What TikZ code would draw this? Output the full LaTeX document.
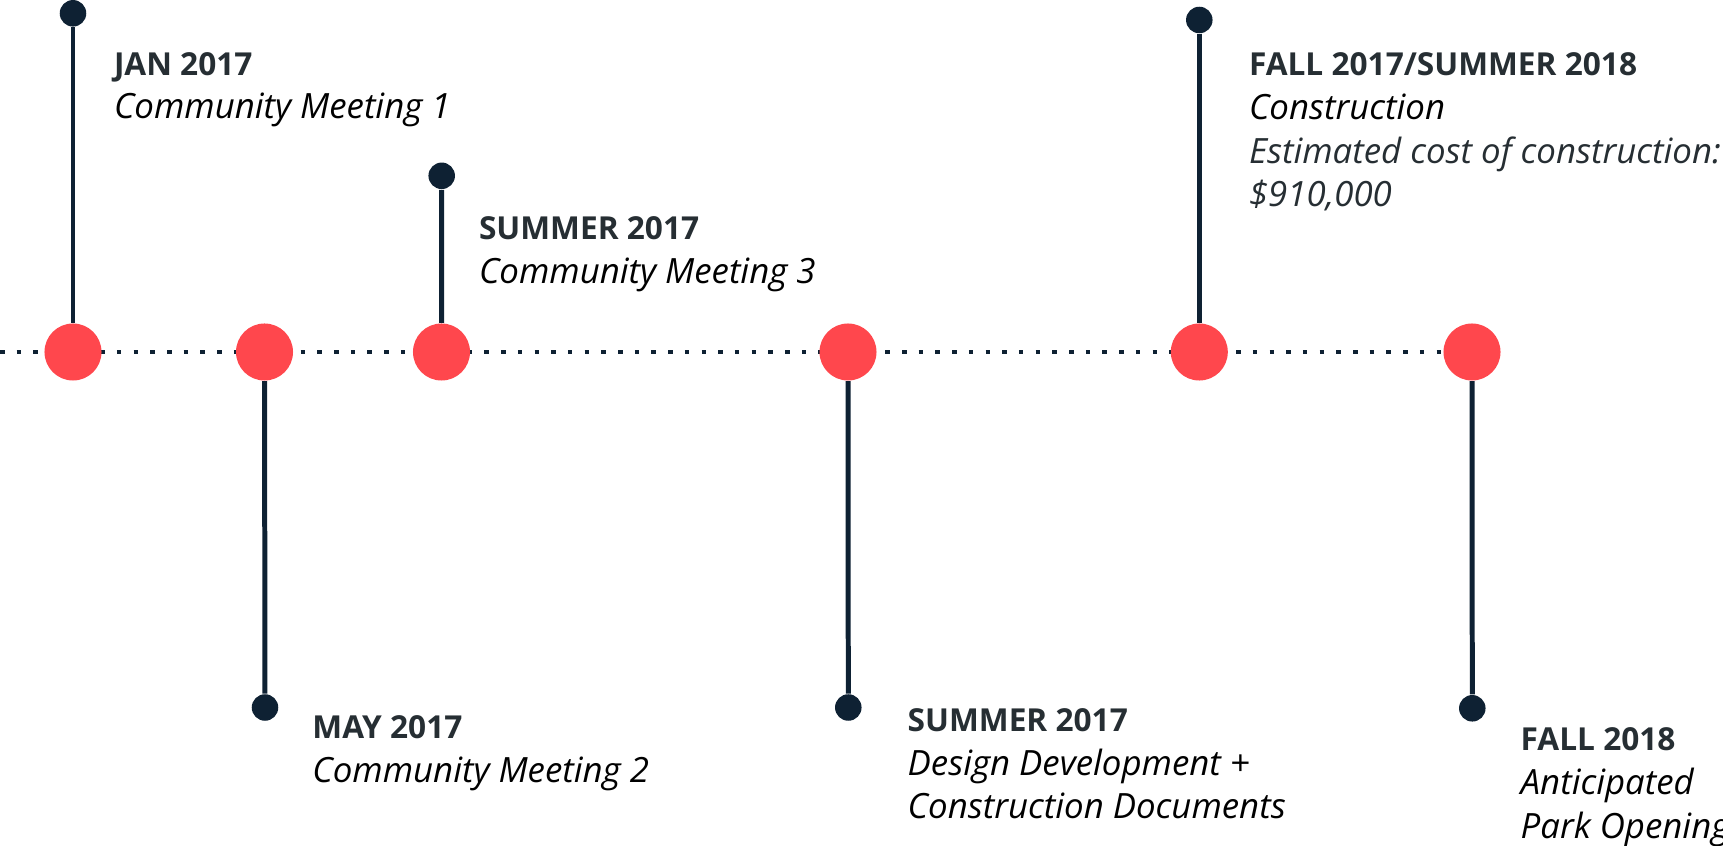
\documentclass[tikz,border=0pt]{standalone}
\usepackage{fontspec}
\setmainfont{Open Sans}
\usepackage{xcolor}
\usetikzlibrary{positioning}
\definecolor{navy}{HTML}{0E2133}
\definecolor{coral}{HTML}{FF474D}
\definecolor{slate}{HTML}{262E33}
\tikzset{milestone/.style={circle,fill=coral,minimum size=0.57cm,inner sep=0pt},
  enddot/.style={circle,fill=navy,minimum size=0.265cm,inner sep=0pt},
  stem/.style={draw=navy,line width=1.42pt},
  dots/.style={draw=navy,line width=1.28pt,dash pattern=on 1.28pt off 3.47pt},
  txt/.style={anchor=base west,align=left,inner sep=0pt,font=\fontsize{9pt}{12.5pt}\selectfont}}
\newcommand{\when}[1]{{\bfseries\color{slate}#1}}
\newcommand{\what}[1]{{\fontsize{9.9pt}{12.5pt}\selectfont\itshape\color{black}#1}}
\newcommand{\cost}[1]{{\fontsize{9.9pt}{12.5pt}\selectfont\itshape\color{slate}#1}}

\begin{document}
\begin{tikzpicture}[x=0.01cm,y=-0.01cm]
    \useasboundingbox (0,0) rectangle (1723,846);
    \coordinate (start) at (0,352);
    \coordinate (stop) at (1472,352);
    \draw [dots] (start) -- (stop);

    \node[milestone] (m1) at (73,352) {};
    \node[milestone] (m2) at (264.5,352) {};
    \node[milestone] (m3) at (441.5,352) {};
    \node[milestone] (m4) at (848,352) {};
    \node[milestone] (m5) at (1199.3,352) {};
    \node[milestone] (m6) at (1472,352) {};

    \node[enddot] (d1) at (73,13.3) {};
    \node[enddot] (d2) at (265,707.5) {};
    \node[enddot] (d3) at (441.7,175.8) {};
    \node[enddot] (d4) at (848.3,707.5) {};
    \node[enddot] (d5) at (1199.3,20) {};
    \node[enddot] (d6) at (1472.3,708.3) {};

    \draw [stem] (d1) -- (m1);
    \draw [stem] (d2) -- (m2);
    \draw [stem] (d3) -- (m3);
    \draw [stem] (d4) -- (m4);
    \draw [stem] (d5) -- (m5);
    \draw [stem] (d6) -- (m6);

    % base west sits on the last line
    \node[txt] (t1) at (113.3,119) {\when{JAN 2017}\\\what{Community Meeting 1}};
    \node[txt] (t2) at (311.7,782.3) {\when{MAY 2017}\\\what{Community Meeting 2}};
    \node[txt] (t3) at (478.3,283.3) {\when{SUMMER 2017}\\\what{Community Meeting 3}};
    \node[txt] (t4) at (907,819) {\when{SUMMER 2017}\\\what{Design Development +}\\\what{Construction Documents}};
    \node[txt] (t5) at (1248.3,207) {\when{FALL 2017/SUMMER 2018}\\\what{Construction}\\\cost{Estimated cost of construction:}\\\cost{\$910,000}};
    \node[txt] (t6) at (1520,838.7) {\when{FALL 2018}\\\what{Anticipated}\\\what{Park Opening}};
\end{tikzpicture}
\end{document}
